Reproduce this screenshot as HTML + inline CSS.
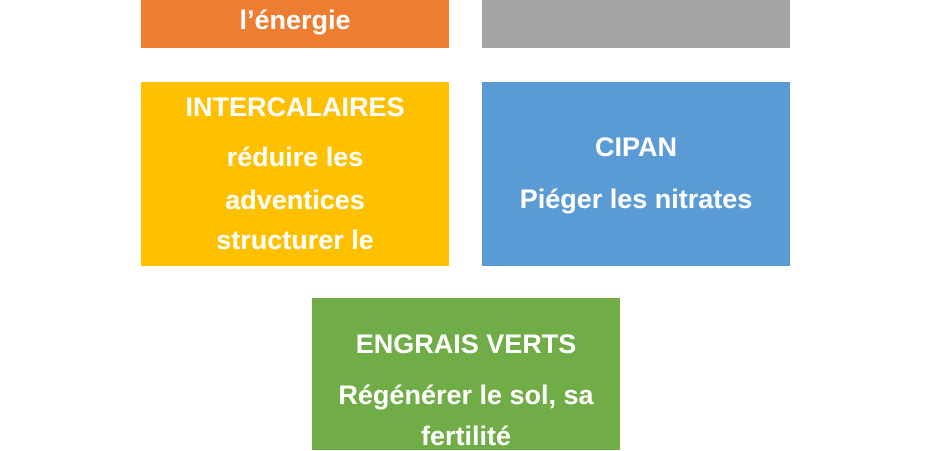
<!DOCTYPE html>
<html><head><meta charset="utf-8"><style>
body{margin:0;width:930px;height:450px;background:#fff;position:relative;overflow:hidden;font-family:"Liberation Sans",sans-serif;}
.b{position:absolute;}
.t{position:absolute;color:#fff;font-weight:bold;font-size:27px;text-align:center;line-height:30px;white-space:nowrap;}
</style></head><body>
<div class="b" style="left:141px;top:0;width:308px;height:48px;background:#ED7D31"></div>
<div class="b" style="left:482px;top:0;width:308px;height:48px;background:#A5A5A5"></div>
<div class="b" style="left:141px;top:82px;width:308px;height:184px;background:#FFC000"></div>
<div class="b" style="left:482px;top:82px;width:308px;height:184px;background:#5B9BD5"></div>
<div class="b" style="left:312px;top:298px;width:308px;height:152px;background:#70AD47"></div>

<div class="t" style="left:141px;width:308px;top:5px">l’énergie</div>

<div class="t" style="left:141px;width:308px;top:92px">INTERCALAIRES</div>
<div class="t" style="left:141px;width:308px;top:142px">réduire les</div>
<div class="t" style="left:141px;width:308px;top:185px">adventices</div>
<div class="t" style="left:141px;width:308px;top:225px">structurer le</div>

<div class="t" style="left:482px;width:308px;top:132px">CIPAN</div>
<div class="t" style="left:482px;width:308px;top:184px">Piéger les nitrates</div>

<div class="t" style="left:312px;width:308px;top:329px">ENGRAIS VERTS</div>
<div class="t" style="left:312px;width:308px;top:380px">Régénérer le sol, sa</div>
<div class="t" style="left:312px;width:308px;top:421px">fertilité</div>
</body></html>
